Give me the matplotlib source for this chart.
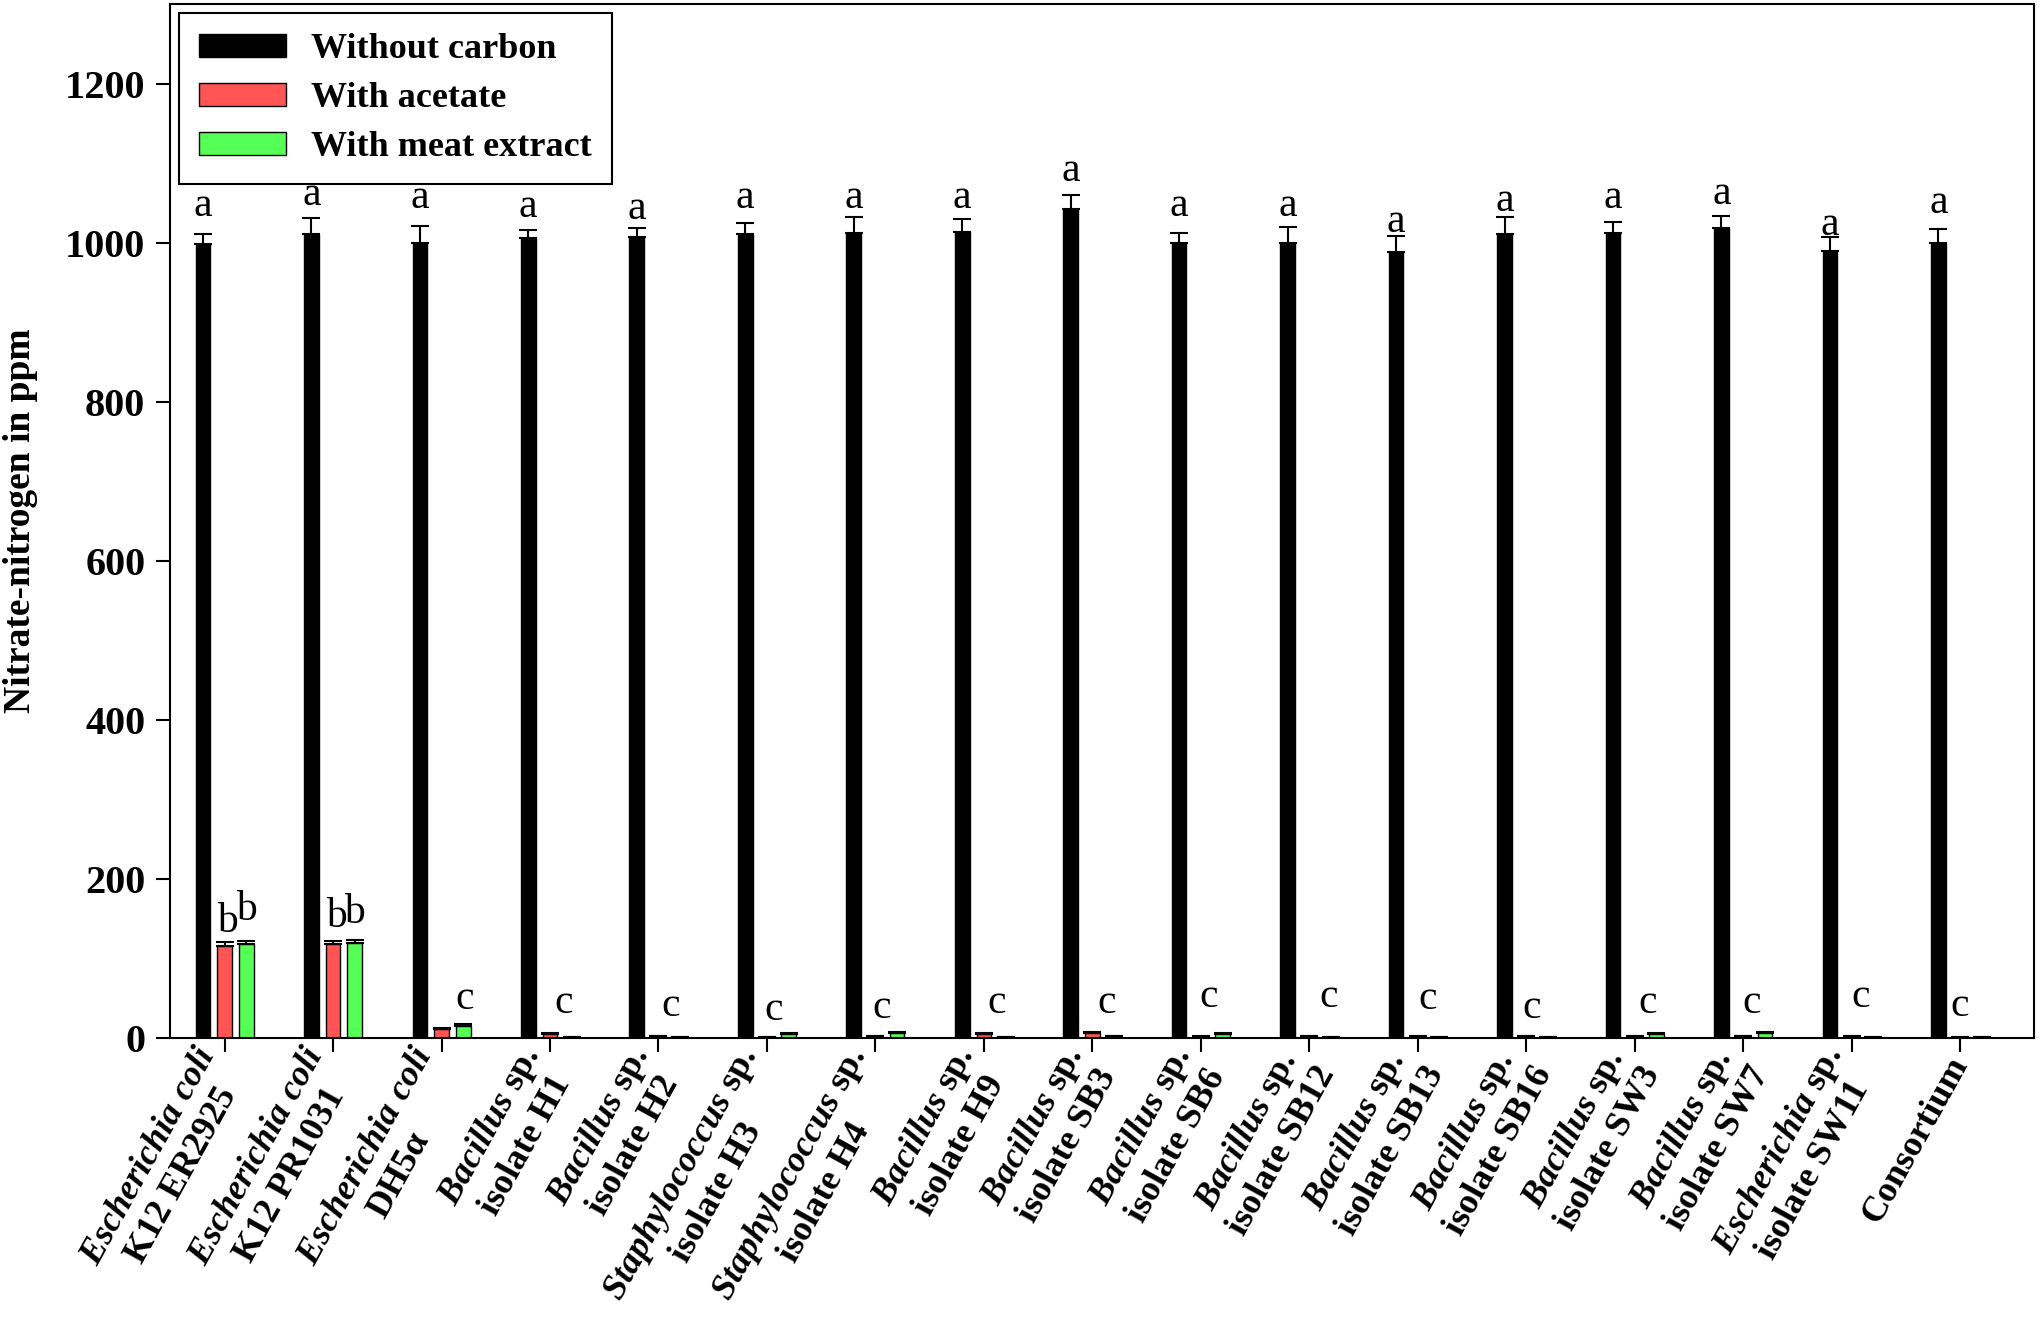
import matplotlib
matplotlib.use("Agg")
import matplotlib.pyplot as plt
import numpy as np

plt.rcParams['font.family'] = ['Liberation Serif', 'DejaVu Serif']
plt.rcParams['font.weight'] = 'bold'
plt.rcParams['mathtext.fontset'] = 'custom'
plt.rcParams['mathtext.rm'] = 'Liberation Serif:bold'
plt.rcParams['mathtext.it'] = 'Liberation Serif:italic:bold'
plt.rcParams['mathtext.bf'] = 'Liberation Serif:bold'

# strains
labels = [r"$Escherichia\ coli$" + "\nK12 ER2925",
          r"$Escherichia\ coli$" + "\nK12 PR1031",
          r"$Escherichia\ coli$" + "\nDH5α",
          r"$Bacillus$ sp." + "\nisolate H1",
          r"$Bacillus$ sp." + "\nisolate H2",
          r"$Staphylococcus$ sp." + "\nisolate H3",
          r"$Staphylococcus$ sp." + "\nisolate H4",
          r"$Bacillus$ sp." + "\nisolate H9",
          r"$Bacillus$ sp." + "\nisolate SB3",
          r"$Bacillus$ sp." + "\nisolate SB6",
          r"$Bacillus$ sp." + "\nisolate SB12",
          r"$Bacillus$ sp." + "\nisolate SB13",
          r"$Bacillus$ sp." + "\nisolate SB16",
          r"$Bacillus$ sp." + "\nisolate SW3",
          r"$Bacillus$ sp." + "\nisolate SW7",
          r"$Escherichia$ sp." + "\nisolate SW11",
          "Consortium"]

# nitrate-nitrogen (ppm)
no_carbon = [998, 1011, 1000, 1006, 1007, 1011, 1012, 1013, 1042, 999, 1000, 988, 1011, 1012, 1018, 990, 1000]
no_carbon_err = [13, 20, 21, 10, 11, 14, 20, 17, 18, 13, 20, 20, 21, 14, 15, 17, 17]
acetate = [116, 118, 11, 5, 2, 1, 2, 5, 6, 1.5, 2, 1.5, 2, 2, 2, 2, 1]
acetate_err = [5, 4, 2, 1, 0.5, 0.5, 0.5, 1, 1, 0.5, 0.5, 0.5, 0.5, 0.5, 0.5, 0.5, 0.5]
meat = [118, 120, 15, 1, 1.5, 5, 6, 1.5, 2, 5, 1.5, 1, 1.5, 5, 6, 1.5, 1]
meat_err = [4, 3, 2.5, 0.3, 0.3, 1, 1, 0.3, 0.5, 1, 0.3, 0.3, 0.3, 1, 1, 0.3, 0.3]

# significance letters
a_y = [1047, 1060, 1056, 1045, 1042, 1056, 1056, 1056, 1091, 1046, 1046, 1026, 1053, 1056, 1062, 1023, 1050]
b_groups = [0, 1]
b_y_acetate = [146, 152]
b_y_meat = [161, 157]
c_dx = [0.21, 0.13, 0.11, 0.06, 0.06, 0.12, 0.13, 0.07, 0.18, 0.09, 0.05, 0.12, 0.08, 0.08, 0.0]
c_y = [50, 44, 40, 35, 38, 44, 44, 52, 52, 49, 38, 44, 44, 52, 41]

red = '#ff5555'
green = '#55ff55'

fig = plt.figure(figsize=(20.4, 13.42), dpi=100)
ax = fig.add_axes([0.0835, 0.2265, 0.9135, 0.7705])

x = np.arange(len(labels))
w = 0.135
off = 0.2
ekw = dict(elinewidth=1.5, capthick=1.5, ecolor='black')
ax.bar(x - off, no_carbon, w, color='black', edgecolor='black', linewidth=1,
       yerr=[np.zeros(len(x)), no_carbon_err], capsize=6.5, error_kw=ekw, label='Without carbon')
ax.bar(x, acetate, w, color=red, edgecolor='black', linewidth=1,
       yerr=[np.zeros(len(x)), acetate_err], capsize=6.5, error_kw=ekw, label='With acetate')
ax.bar(x + off, meat, w, color=green, edgecolor='black', linewidth=1,
       yerr=[np.zeros(len(x)), meat_err], capsize=6.5, error_kw=ekw, label='With meat extract')

lt = dict(ha='center', va='center', fontsize=30, fontweight='normal')
for i in range(len(x)):
    ax.text(x[i] - off, a_y[i], 'a', **lt)
for k, g in enumerate(b_groups):
    ax.text(x[g] + 0.03, b_y_acetate[k], 'b', **lt)
    ax.text(x[g] + off, b_y_meat[k], 'b', **lt)
for k in range(len(c_dx)):
    g = k + 2
    ax.text(x[g] + c_dx[k], c_y[k], 'c', **lt)

ax.set_xlim(-0.5, 16.68)
ax.set_ylim(0, 1300)
ax.set_yticks([0, 200, 400, 600, 800, 1000, 1200])
ax.tick_params(axis='y', labelsize=29, length=10, width=1.5, direction='out', pad=8)
ax.tick_params(axis='x', length=10, width=1.5, direction='out', pad=5)
ax.set_xticks(x)
ax.set_xticklabels(labels, rotation=61, ha='right', va='center', rotation_mode='anchor',
                   multialignment='center', fontsize=26)
for s in ax.spines.values():
    s.set_linewidth(1.5)
ax.set_ylabel('Nitrate-nitrogen in ppm', fontsize=27, fontweight='bold')
ax.yaxis.set_label_coords(-0.071, 0.5)

leg = ax.legend(loc='upper left', fontsize=26, frameon=True, fancybox=False,
                edgecolor='black', framealpha=1, handlelength=2.4, handleheight=0.6,
                labelspacing=0.45, borderaxespad=0.25, handletextpad=0.7, borderpad=0.55)
leg.get_frame().set_linewidth(1.5)

fig.savefig('out.png', dpi=100)
